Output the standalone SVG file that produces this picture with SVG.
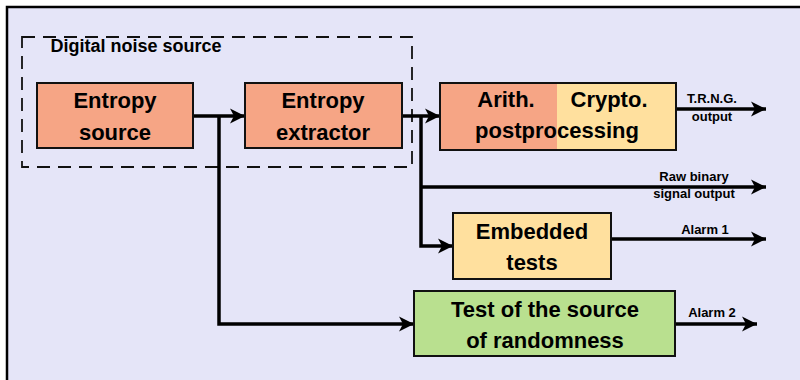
<svg xmlns="http://www.w3.org/2000/svg" width="800" height="380" viewBox="0 0 800 380">
<defs>
<style>
text{font-family:"Liberation Sans",Arial,sans-serif;font-weight:bold;fill:#000;text-anchor:middle}
.big{font-size:22px}
.small{font-size:13px}
.mid{font-size:18px}
.box{stroke:#111;stroke-width:2}
.salmon{fill:#F6A585}
.yellow{fill:#FFE09E}
.green{fill:#B9E08F}
.wire{fill:none;stroke:#000;stroke-width:3.5;stroke-linejoin:miter}
.arr{marker-end:url(#ah)}
</style>
<marker id="ah" markerUnits="userSpaceOnUse" markerWidth="16" markerHeight="16" refX="15" refY="8" orient="auto">
<path d="M0,0.5 L15,8 L0,15.5 L4,8 z" fill="#000"/>
</marker>
</defs>
<rect x="0" y="0" width="800" height="380" fill="#fff"/>
<rect x="7" y="7" width="803" height="383" fill="#E5E5F8" stroke="#000" stroke-width="2.5"/>
<g id="digital-noise-source">
<rect x="22" y="37" width="390" height="130" fill="none" stroke="#111" stroke-width="1.8" stroke-dasharray="13 8"/>
<text x="136" y="52" class="mid">Digital noise source</text>
</g>
<g id="connectors">
<path class="wire arr" d="M193,116 H245"/>
<path class="wire arr" d="M219,116 V324 H414"/>
<path class="wire arr" d="M402,116 H440"/>
<path class="wire arr" d="M421,116 V246 H453"/>
<path class="wire arr" d="M421,187 H766"/>
<path class="wire arr" d="M676,109 H766"/>
<path class="wire arr" d="M611,239 H766"/>
<path class="wire arr" d="M675,324 H757"/>
<text x="712" y="103" class="small">T.R.N.G.</text>
<text x="712" y="121" class="small">output</text>
<text x="694" y="181" class="small">Raw binary</text>
<text x="694" y="198" class="small">signal output</text>
<text x="705" y="234" class="small">Alarm 1</text>
<text x="712" y="317" class="small">Alarm 2</text>
</g>
<g id="entropy-source">
<rect x="37" y="83" width="156" height="65" class="box salmon"/>
<text x="115" y="108" class="big">Entropy</text>
<text x="115" y="140" class="big">source</text>
</g>
<g id="entropy-extractor">
<rect x="245" y="83" width="157" height="65" class="box salmon"/>
<text x="323" y="108" class="big">Entropy</text>
<text x="323" y="140" class="big">extractor</text>
</g>
<g id="postprocessing">
<rect x="440" y="83" width="117" height="67" class="salmon"/>
<rect x="557" y="83" width="119" height="67" class="yellow"/>
<rect x="440" y="83" width="236" height="67" class="box" fill="none"/>
<text x="506" y="107" class="big">Arith.</text>
<text x="609" y="107" class="big">Crypto.</text>
<text x="557" y="138" class="big">postprocessing</text>
</g>
<g id="embedded-tests">
<rect x="453" y="213" width="158" height="66" class="box yellow"/>
<text x="532" y="239" class="big">Embedded</text>
<text x="532" y="270" class="big">tests</text>
</g>
<g id="test-source">
<rect x="414" y="291" width="261" height="65" class="box green"/>
<text x="545" y="317" class="big">Test of the source</text>
<text x="545" y="348" class="big">of randomness</text>
</g>
</svg>
